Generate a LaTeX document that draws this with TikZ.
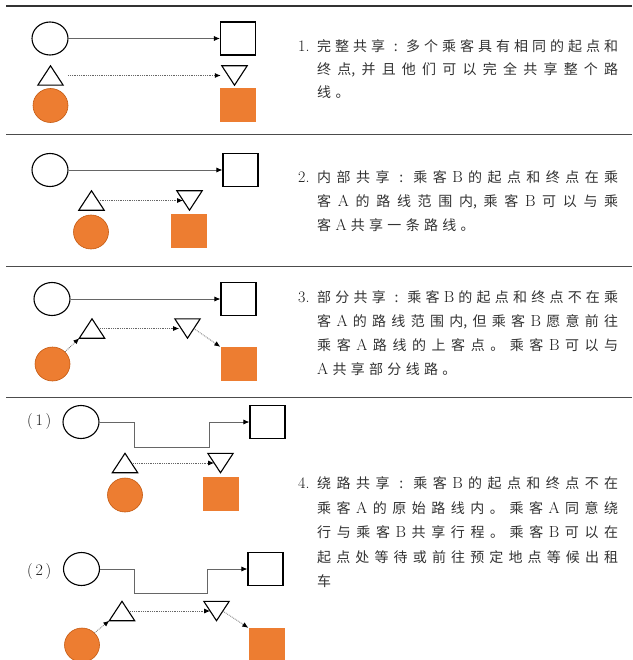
\documentclass[tikz,border=0pt]{standalone}
\usepackage{fontspec}
\newfontfamily\cjk{Noto Sans CJK SC}
\usetikzlibrary{arrows.meta,shapes.geometric,calc}
\definecolor{orng}{HTML}{ED7D31}
\definecolor{orngdark}{HTML}{C55A11}
\definecolor{txt}{HTML}{333333}
\makeatletter
\newcommand\spreadtext[2]{\@tempswafalse\@tfor\sp@ch:=#2\do{\if@tempswa#1\fi\@tempswatrue\sp@ch}}
\makeatother
\newcommand\lat[1]{{\rmfamily\fontsize{16}{16}\selectfont\color{black!90}#1}}
\newcommand\colx{\makebox[13pt]{:}}
\newcommand\jline[1]{\makebox[301pt][s]{\spreadtext{\hfil}{#1}}}
\newcommand\lline[1]{\spreadtext{\hspace{4.3pt}}{#1}}
\newcommand\uptri[1]{\draw[triline] (#1.south west) -- (#1.south east) -- (#1.north) -- cycle;}
\newcommand\dntri[1]{\draw[triline] (#1.north west) -- (#1.north east) -- (#1.south) -- cycle;}
\begin{document}
\begin{tikzpicture}[x=1pt,y=-1pt,
  font=\cjk\fontsize{14}{16}\selectfont,
  startc/.style={ellipse, draw=black, line width=1.1pt, minimum width=36pt, minimum height=33pt, inner sep=0},
  endsq/.style={rectangle, draw=black, line width=1.1pt, minimum width=35pt, minimum height=33pt, inner sep=0},
  tribox/.style={rectangle, minimum width=25pt, minimum height=19pt, inner sep=0},
  triline/.style={draw=black, line width=1.1pt},
  ocirc/.style={ellipse, fill=orng, draw=orngdark, line width=0.6pt, minimum width=35pt, minimum height=34pt, inner sep=0},
  osq/.style={rectangle, fill=orng, minimum width=36pt, minimum height=34pt, inner sep=0},
  route/.style={draw=black!60, line width=0.8pt, -{Latex[length=6pt,width=5pt,black]}},
  dotarrow/.style={draw=black!60, line width=0.8pt, densely dotted, -{Latex[length=6pt,width=5pt,black]}},
  rule/.style={draw=black!70, line width=1pt},
  txtline/.style={anchor=west, inner sep=0, text=txt, text height=12pt, text depth=2pt},
  numlab/.style={anchor=west, inner sep=0, text=txt, text height=12pt, text depth=2pt}
]
\fill[white] (0,0) rectangle (632,660);
\useasboundingbox (0,0) rectangle (632,660);
% rules
\draw[rule, line width=1.6pt, draw=black!80] (6,6) -- (632,6);
\draw[rule] (6,135) -- (632,135);
\draw[rule] (6,266) -- (632,266);
\draw[rule] (6,397) -- (632,397);

% ---------- panel 1
\node[startc] (c1) at (50,38.5) {};
\node[endsq] (s1) at (238,38.5) {};
\node[tribox] (t1) at (50.5,75.5) {};
\node[tribox] (v1) at (234.5,75.5) {};
\node[ocirc] (o1) at (50.5,105.5) {};
\node[osq] (q1) at (238,105) {};
\uptri{t1}\dntri{v1}
\draw[route] (c1) -- (s1);
\draw[dotarrow, shorten <=5pt, shorten >=1pt] (t1.east) -- (v1.west);

\node[numlab] (n1) at (298,47) {\lat{1.}};
\node[txtline] (p1a) at (317,47) {\jline{完整共享{\colx}多个乘客具有相同的起点和}};
\node[txtline] (p1b) at (317,70) {\jline{终{点,}并且他们可以完全共享整个路}};
\node[txtline] (p1c) at (317,93) {\lline{线。}};

% ---------- panel 2
\node[startc] (c2) at (50,170) {};
\node[endsq] (s2) at (240.5,170) {};
\node[tribox] (t2) at (91.5,200.5) {};
\node[tribox] (v2) at (189.5,200.5) {};
\node[ocirc] (o2) at (91,232) {};
\node[osq] (q2) at (189,231) {};
\uptri{t2}\dntri{v2}
\draw[route] (c2) -- (s2);
\draw[dotarrow, shorten <=2pt] ($(t2.north)!0.5!(t2.south east)$) -- ($(v2.north west)!0.5!(v2.south)$);

\node[numlab] (n2) at (298,178) {\lat{2.}};
\node[txtline] (p2a) at (317,178) {\jline{内部共享{\colx}乘客{\lat{B}}的起点和终点在乘}};
\node[txtline] (p2b) at (317,202) {\jline{客{\lat{A}}的路线范围{内,}乘客{\lat{B}}可以与乘}};
\node[txtline] (p2c) at (317,225) {\lline{客{\lat{A}}共享一条路线。}};

% ---------- panel 3
\node[startc] (c3) at (52,299) {};
\node[endsq] (s3) at (238.5,299) {};
\node[tribox] (t3) at (92,328.5) {};
\node[tribox] (v3) at (187.5,328.5) {};
\node[ocirc] (o3) at (52.5,364) {};
\node[osq] (q3) at (238.5,364) {};
\uptri{t3}\dntri{v3}
\draw[route] (c3) -- (s3);
\draw[dotarrow, shorten <=2pt, shorten >=2pt] ($(t3.north)!0.5!(t3.south east)$) -- ($(v3.north west)!0.5!(v3.south)$);
\draw[dotarrow] (o3.north east) -- (t3.south west);
\draw[dotarrow] ($(v3.north east)!0.5!(v3.south)$) -- (q3.north west);

\node[numlab] (n3) at (298,297) {\lat{3.}};
\node[txtline] (p3a) at (317,297) {\jline{部分共享{\colx}乘客{\lat{B}}的起点和终点不在乘}};
\node[txtline] (p3b) at (317,321) {\jline{客{\lat{A}}的路线范围{内,}但乘客{\lat{B}}愿意前往}};
\node[txtline] (p3c) at (317,345) {\jline{乘客{\lat{A}}路线的上客点。乘客{\lat{B}}可以与}};
\node[txtline] (p3d) at (317,369) {\lline{{\lat{A}}共享部分线路。}};

% ---------- panel 4 (1)
\node[txtline] (l1) at (27,420) {\lat{(\,1\,)}};
\node[startc] (c4) at (81,422) {};
\node[endsq] (s4) at (267.5,422) {};
\node[tribox] (t4) at (125,463) {};
\node[tribox] (v4) at (220.5,463) {};
\node[ocirc] (o4) at (125,495) {};
\node[osq] (q4) at (221,494) {};
\uptri{t4}\dntri{v4}
\draw[route] (c4.east) -- (134,422) -- (134,447) -- (209,447) -- (209,422) -- (s4.west);
\draw[dotarrow, shorten <=2pt] ($(t4.north)!0.5!(t4.south east)$) -- ($(v4.north west)!0.5!(v4.south)$);

% ---------- panel 4 (2)
\node[txtline] (l2) at (27,570) {\lat{(\,2\,)}};
\node[startc] (c5) at (81.5,569) {};
\node[endsq] (s5) at (265.5,569) {};
\node[tribox] (t5) at (122,611) {};
\node[tribox] (v5) at (216.5,611) {};
\node[ocirc] (o5) at (82,645) {};
\node[osq] (q5) at (266.5,645) {};
\uptri{t5}\dntri{v5}
\draw[route] (c5.east) -- (134,569) -- (134,593) -- (207,593) -- (207,569) -- (s5.west);
\draw[dotarrow, shorten <=2pt] ($(t5.north)!0.5!(t5.south east)$) -- ($(v5.north west)!0.5!(v5.south)$);
\draw[dotarrow] (o5.north east) -- (t5.south west);
\draw[dotarrow] ($(v5.north east)!0.5!(v5.south)$) -- (q5.north west);

\node[numlab] (n4) at (298,483) {\lat{4.}};
\node[txtline] (p4a) at (317,483) {\jline{绕路共享{\colx}乘客{\lat{B}}的起点和终点不在}};
\node[txtline] (p4b) at (317,508) {\jline{乘客{\lat{A}}的原始路线内。乘客{\lat{A}}同意绕}};
\node[txtline] (p4c) at (317,532) {\jline{行与乘客{\lat{B}}共享行程。乘客{\lat{B}}可以在}};
\node[txtline] (p4d) at (317,557) {\jline{起点处等待或前往预定地点等候出租}};
\node[txtline] (p4e) at (317,581) {\lline{车}};
\end{tikzpicture}
\end{document}
